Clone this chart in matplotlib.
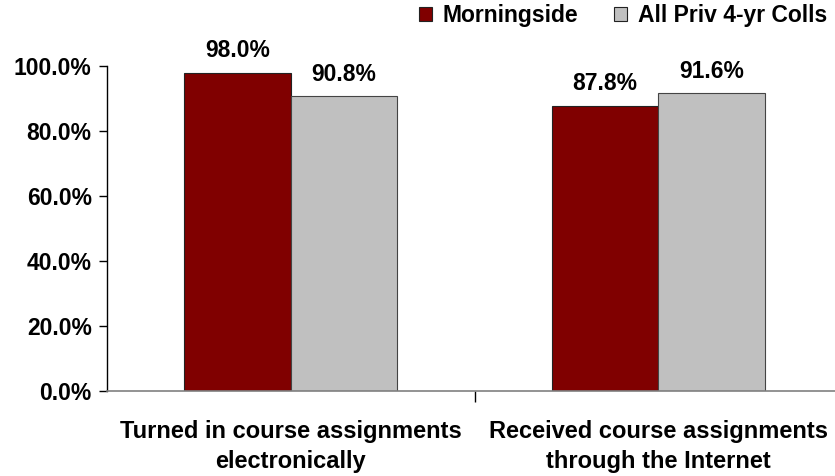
import matplotlib
matplotlib.use("Agg")
import matplotlib.pyplot as plt
import numpy as np

categories = ["Turned in course assignments\nelectronically", "Received course assignments\nthrough the Internet"]
series_names = ["Morningside", "All Priv 4-yr Colls"]
morningside = [98.0, 87.8]
all_priv = [90.8, 91.6]
yticks = [0, 20, 40, 60, 80, 100]

plt.rcParams['font.family'] = ['Liberation Sans', 'DejaVu Sans']
plt.rcParams['font.weight'] = 'bold'

fig = plt.figure(figsize=(8.35, 4.76), dpi=100)
ax = fig.add_axes([107/835, 1-391/476, (842-107)/835, (391-66)/476])

x = np.arange(len(categories))
w = 0.29
b1 = ax.bar(x - w/2, morningside, w, color="#800000", edgecolor="#222222", linewidth=0.8, label=series_names[0])
b2 = ax.bar(x + w/2, all_priv, w, color="#C0C0C0", edgecolor="#444444", linewidth=0.8, label=series_names[1])

for bars, vals in [(b1, morningside), (b2, all_priv)]:
    for r, v in zip(bars, vals):
        ax.annotate(f"{v:.1f}%", (r.get_x() + r.get_width()/2, v), xytext=(0, 11),
                    textcoords="offset points", ha="center", va="baseline",
                    fontsize=16.5, fontweight="bold")

ax.set_xlim(-0.5, 1.5)
ax.set_ylim(0, 100)
ax.set_yticks(yticks)
ax.set_yticklabels([f"{t:.1f}%" for t in yticks], fontsize=16.5, fontweight="bold")
ax.set_xticks([0.5])
ax.set_xticklabels([""])
ax.tick_params(axis='y', direction='out', length=6, width=1, pad=5)
ax.tick_params(axis='x', direction='out', length=8, width=1)
ax.spines['top'].set_visible(False)
ax.spines['right'].set_visible(False)
ax.spines['bottom'].set_color("#808080")
ax.spines['bottom'].set_linewidth(1.2)
ax.spines['left'].set_linewidth(1)

for xi, c in zip(x, categories):
    ax.annotate(c, (xi, 0), xytext=(0, -21), textcoords="offset points",
                ha="center", va="top", fontsize=17, fontweight="bold", linespacing=1.4)

leg = fig.legend(loc="upper right", bbox_to_anchor=(827/835, 1 - 4/476), ncol=2, frameon=False,
                 prop={'size': 16.5, 'weight': 'bold'}, handlelength=0.57, handleheight=0.57,
                 handletextpad=0.45, columnspacing=1.6, borderpad=0, borderaxespad=0)
for p in leg.get_patches():
    p.set_edgecolor("#222222")

fig.savefig("out.png", dpi=100)
